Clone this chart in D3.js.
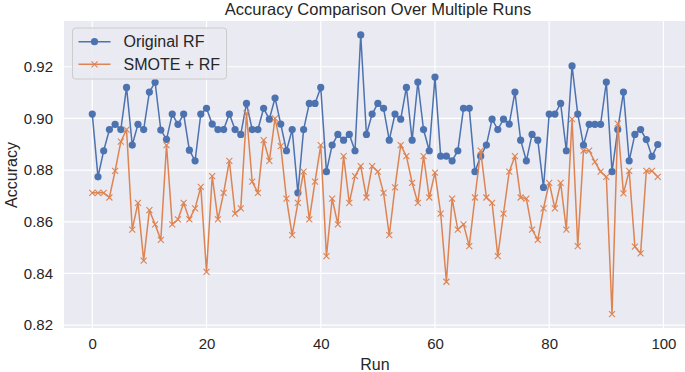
<!DOCTYPE html>
<html>
<head>
<meta charset="utf-8">
<script src="https://cdn.jsdelivr.net/npm/d3@7"></script>
<style>
  body { margin: 0; background: #fff; }
  svg { display: block; font-family: "Liberation Sans", Arial, sans-serif; }
</style>
</head>
<body>
<svg id="chart" width="685" height="372"></svg>
<script>
// Valeurs, une par run.
const runs = d3.range(100);
const originalRF = [
  0.9017, 0.8774, 0.8875, 0.8957, 0.8977, 0.8957, 0.9120, 0.8897, 0.8977, 0.8957,
  0.9102, 0.9140, 0.8955, 0.8919, 0.9017, 0.8977, 0.9017, 0.8877, 0.8836, 0.9017,
  0.9039, 0.8978, 0.8957, 0.8957, 0.9017, 0.8957, 0.8938, 0.9058, 0.8957, 0.8957,
  0.9039, 0.8997, 0.9079, 0.8978, 0.8875, 0.8957, 0.8712, 0.8957, 0.9058, 0.9058,
  0.9120, 0.8794, 0.8897, 0.8938, 0.8916, 0.8938, 0.8875, 0.9323, 0.8938, 0.9017,
  0.9058, 0.9039, 0.8916, 0.9017, 0.8997, 0.9120, 0.8916, 0.9141, 0.8957, 0.8875,
  0.9160, 0.8854, 0.8854, 0.8836, 0.8875, 0.9039, 0.9039, 0.8794, 0.8854, 0.8897,
  0.8997, 0.8957, 0.8997, 0.8978, 0.9102, 0.8916, 0.8836, 0.8938, 0.8916, 0.8733,
  0.9017, 0.9017, 0.9058, 0.8875, 0.9203, 0.9017, 0.8897, 0.8977, 0.8977, 0.8977,
  0.9141, 0.8794, 0.8957, 0.9102, 0.8836, 0.8938, 0.8957, 0.8918, 0.8853, 0.8899
];
const smoteRF = [
  0.8712, 0.8712, 0.8712, 0.8694, 0.8797, 0.8910, 0.8957, 0.8570, 0.8673, 0.8450,
  0.8645, 0.8590, 0.8530, 0.8897, 0.8590, 0.8609, 0.8673, 0.8609, 0.8652, 0.8735,
  0.8406, 0.8777, 0.8609, 0.8712, 0.8836, 0.8632, 0.8652, 0.9019, 0.8755, 0.8712,
  0.8916, 0.8836, 0.9000, 0.8893, 0.8690, 0.8548, 0.8673, 0.8794, 0.8609, 0.8755,
  0.8897, 0.8467, 0.8690, 0.8590, 0.8854, 0.8673, 0.8777, 0.8815, 0.8694, 0.8815,
  0.8794, 0.8712, 0.8548, 0.8733, 0.8897, 0.8854, 0.8751, 0.8673, 0.8854, 0.8694,
  0.8790, 0.8632, 0.8368, 0.8690, 0.8570, 0.8590, 0.8506, 0.8694, 0.8875, 0.8694,
  0.8673, 0.8467, 0.8632, 0.8794, 0.8854, 0.8694, 0.8690, 0.8570, 0.8530, 0.8652,
  0.8751, 0.8652, 0.8751, 0.8570, 0.8997, 0.8506, 0.8875, 0.8875, 0.8832, 0.8794,
  0.8774, 0.8243, 0.8980, 0.8710, 0.8797, 0.8504, 0.8478, 0.8797, 0.8797, 0.8774
];
const xTicks = [0, 20, 40, 60, 80, 100];
const yTicks = [0.82, 0.84, 0.86, 0.88, 0.90, 0.92];
const seriesNames = ["Original RF", "SMOTE + RF"];
const seriesColors = ["#4c72b0", "#dd8452"];

const svg = d3.select("#chart");
const plot = { left: 64, right: 686, top: 21, bottom: 328 };

// Marges de 5% comme matplotlib.
function padded(extent) {
  const span = extent[1] - extent[0];
  return [extent[0] - span * 0.05, extent[1] + span * 0.05];
}

const x = d3.scaleLinear()
  .domain(padded(d3.extent(runs)))
  .range([plot.left, plot.right]);
const y = d3.scaleLinear()
  .domain(padded(d3.extent(originalRF.concat(smoteRF))))
  .range([plot.bottom, plot.top]);

svg.append("rect")
  .attr("x", plot.left)
  .attr("y", plot.top)
  .attr("width", plot.right - plot.left)
  .attr("height", plot.bottom - plot.top)
  .attr("fill", "#eaeaf2");

svg.append("clipPath").attr("id", "plot-clip")
  .append("rect")
  .attr("x", plot.left)
  .attr("y", plot.top)
  .attr("width", plot.right - plot.left)
  .attr("height", plot.bottom - plot.top);

// Grille blanche.
const grid = svg.append("g").attr("clip-path", "url(#plot-clip)");
grid.selectAll(".gx")
  .data(xTicks)
  .enter()
  .append("line")
  .attr("x1", function(d) { return x(d); })
  .attr("x2", function(d) { return x(d); })
  .attr("y1", plot.top)
  .attr("y2", plot.bottom)
  .attr("stroke", "#fff")
  .attr("stroke-width", 1.2);
grid.selectAll(".gy")
  .data(yTicks)
  .enter()
  .append("line")
  .attr("x1", plot.left)
  .attr("x2", plot.right)
  .attr("y1", function(d) { return y(d); })
  .attr("y2", function(d) { return y(d); })
  .attr("stroke", "#fff")
  .attr("stroke-width", 1.2);

// Axes sans ligne de domaine ni graduations.
const xAxis = svg.append("g")
  .attr("transform", "translate(0," + plot.bottom + ")")
  .call(d3.axisBottom(x).tickValues(xTicks).tickSize(0).tickPadding(10));
const yAxis = svg.append("g")
  .attr("transform", "translate(" + plot.left + ",0)")
  .call(d3.axisLeft(y).tickValues(yTicks).tickSize(0).tickPadding(11)
    .tickFormat(d3.format(".2f")));
[xAxis, yAxis].forEach(function(axis) {
  axis.select(".domain").remove();
  axis.selectAll("text")
    .attr("fill", "#262626")
    .style("font-size", "15px")
    .style("font-family", "Liberation Sans, Arial, sans-serif");
});

// Courbes.
const line = d3.line()
  .x(function(d, i) { return x(runs[i]); })
  .y(function(d) { return y(d); });
const lines = svg.append("g").attr("clip-path", "url(#plot-clip)");

lines.append("path")
  .datum(originalRF)
  .attr("d", line)
  .attr("fill", "none")
  .attr("stroke", seriesColors[0])
  .attr("stroke-width", 1.5);
lines.selectAll(".dot")
  .data(originalRF)
  .enter()
  .append("circle")
  .attr("cx", function(d, i) { return x(runs[i]); })
  .attr("cy", function(d) { return y(d); })
  .attr("r", 3.6)
  .attr("fill", seriesColors[0]);

lines.append("path")
  .datum(smoteRF)
  .attr("d", line)
  .attr("fill", "none")
  .attr("stroke", seriesColors[1])
  .attr("stroke-width", 1.5);

function crossPath(cx, cy, s) {
  return "M" + (cx - s) + "," + (cy - s) + "L" + (cx + s) + "," + (cy + s) +
    "M" + (cx - s) + "," + (cy + s) + "L" + (cx + s) + "," + (cy - s);
}
lines.selectAll(".cross")
  .data(smoteRF)
  .enter()
  .append("path")
  .attr("d", function(d, i) { return crossPath(x(runs[i]), y(d), 3); })
  .attr("stroke", seriesColors[1])
  .attr("stroke-width", 1.1)
  .attr("fill", "none");

// Titres.
svg.append("text")
  .attr("x", 378)
  .attr("y", 15)
  .attr("text-anchor", "middle")
  .attr("fill", "#262626")
  .style("font-size", "16.5px")
  .text("Accuracy Comparison Over Multiple Runs");
svg.append("text")
  .attr("x", 375)
  .attr("y", 370)
  .attr("text-anchor", "middle")
  .attr("fill", "#262626")
  .style("font-size", "16px")
  .text("Run");
svg.append("text")
  .attr("transform", "translate(17,175) rotate(-90)")
  .attr("text-anchor", "middle")
  .attr("fill", "#262626")
  .style("font-size", "16px")
  .text("Accuracy");

// Legende.
const legend = svg.append("g").attr("transform", "translate(72.5,28)");
legend.append("rect")
  .attr("width", 154)
  .attr("height", 51)
  .attr("rx", 3)
  .attr("fill", "#eaeaf2")
  .attr("fill-opacity", 0.8)
  .attr("stroke", "#cccccc");
const entries = legend.selectAll(".entry")
  .data(seriesNames)
  .enter()
  .append("g")
  .attr("transform", function(d, i) { return "translate(0," + (13.7 + i * 22.6) + ")"; });
entries.append("line")
  .attr("x1", 6)
  .attr("x2", 38)
  .attr("stroke", function(d, i) { return seriesColors[i]; })
  .attr("stroke-width", 1.5);
entries.filter(function(d, i) { return i === 0; })
  .append("circle")
  .attr("cx", 22)
  .attr("r", 3.6)
  .attr("fill", seriesColors[0]);
entries.filter(function(d, i) { return i === 1; })
  .append("path")
  .attr("d", crossPath(22, 0, 3))
  .attr("stroke", seriesColors[1])
  .attr("stroke-width", 1.1);
entries.append("text")
  .attr("x", 51)
  .attr("y", 5.5)
  .attr("fill", "#262626")
  .style("font-size", "16px")
  .text(function(d) { return d; });
</script>
</body>
</html>
